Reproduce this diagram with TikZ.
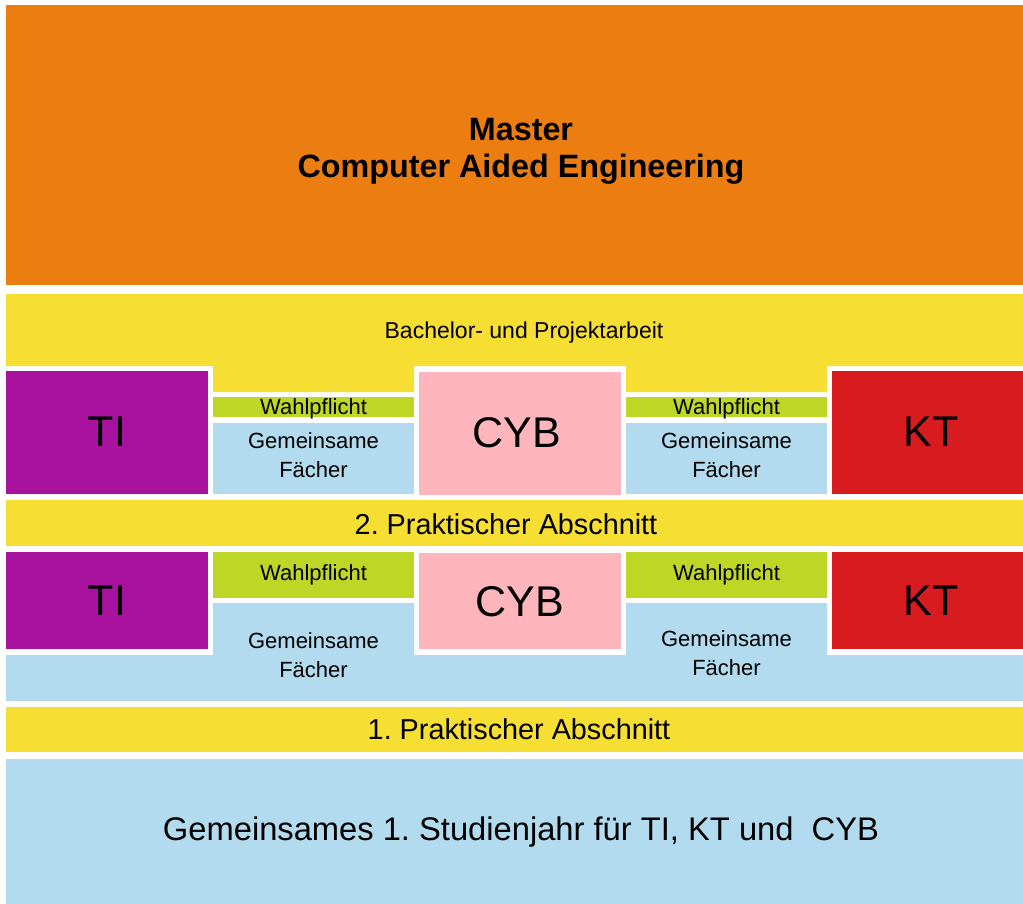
\documentclass[tikz,border=0pt]{standalone}
\usepackage{fontspec}
\setmainfont{Liberation Sans}
\usepackage{tikz}
\frenchspacing

\definecolor{masterorange}{RGB}{236,125,17}
\definecolor{praxisyellow}{RGB}{246,222,51}
\definecolor{tipurple}{RGB}{168,18,159}
\definecolor{cybpink}{RGB}{255,181,188}
\definecolor{ktred}{RGB}{215,27,30}
\definecolor{wahlgreen}{RGB}{190,215,38}
\definecolor{commonblue}{RGB}{179,219,239}

\begin{document}
\begin{tikzpicture}[x=1pt, y=-1pt,
  bigtext/.style={font=\fontsize{43}{50}\selectfont},
  midtext/.style={font=\fontsize{28.8}{34}\selectfont},
  smalltext/.style={font=\fontsize{22}{29}\selectfont, align=center, inner sep=0pt}]
  \useasboundingbox (0,0) rectangle (1023,904);

  % Master
  \fill[masterorange] (6,5) rectangle (1023,285);

  % Bachelor- und Projektarbeit
  \fill[praxisyellow] (6,294) -- (1023,294) -- (1023,366) -- (827,366) -- (827,392)
     -- (626,392) -- (626,366) -- (414,366) -- (414,392) -- (213,392) -- (213,366)
     -- (6,366) -- cycle;

  % upper row
  \fill[tipurple] (6,371) rectangle (208,494);
  \fill[cybpink] (419,372) rectangle (621,495);
  \fill[ktred] (832,371) rectangle (1023,494);
  \fill[wahlgreen] (213,397) rectangle (414,417);
  \fill[wahlgreen] (626,397) rectangle (827,417);
  \fill[commonblue] (213,423) rectangle (414,494);
  \fill[commonblue] (626,423) rectangle (827,494);

  % 2. Praktischer Abschnitt
  \fill[praxisyellow] (6,500) rectangle (1023,546);

  % lower row
  \fill[tipurple] (6,552) rectangle (208,649);
  \fill[cybpink] (419,553) rectangle (621,649);
  \fill[ktred] (832,552) rectangle (1023,649);
  \fill[wahlgreen] (213,552) rectangle (414,598);
  \fill[wahlgreen] (626,552) rectangle (827,598);
  \fill[commonblue] (6,655) -- (213,655) -- (213,603) -- (414,603) -- (414,655)
     -- (626,655) -- (626,603) -- (827,603) -- (827,655) -- (1023,655)
     -- (1023,701) -- (6,701) -- cycle;

  % 1. Praktischer Abschnitt
  \fill[praxisyellow] (6,707) rectangle (1023,752);

  % erstes Studienjahr
  \fill[commonblue] (6,759) rectangle (1023,904);

  % texts
  \node[align=center, font=\fontsize{32.3}{37}\selectfont\bfseries] (master) at (521,151)
     {Master\\Computer Aided Engineering};
  \node[smalltext, font=\fontsize{23}{29}\selectfont] (bachelor) at (524,333)
     {Bachelor- und Projektarbeit};

  \node[bigtext] (tiup) at (107,432) {TI};
  \node[bigtext] (cybup) at (517,433) {CYB};
  \node[bigtext] (ktup) at (931,432) {KT};
  \node[smalltext] (wahlupl) at (313.5,409) {Wahlpflicht};
  \node[smalltext] (wahlupr) at (726.5,409) {Wahlpflicht};
  \node[smalltext] (commonupl) at (313.5,455) {Gemeinsame\\Fächer};
  \node[smalltext] (commonupr) at (726.5,455) {Gemeinsame\\Fächer};

  \node[midtext] (praxiszwei) at (506,524) {2. Praktischer Abschnitt};

  \node[bigtext] (tilow) at (107,601) {TI};
  \node[bigtext] (cyblow) at (520,602) {CYB};
  \node[bigtext] (ktlow) at (931,601) {KT};
  \node[smalltext] (wahllowl) at (313.5,575) {Wahlpflicht};
  \node[smalltext] (wahllowr) at (726.5,575) {Wahlpflicht};
  \node[smalltext] (commonlowl) at (313.5,655) {Gemeinsame\\Fächer};
  \node[smalltext] (commonlowr) at (726.5,653) {Gemeinsame\\Fächer};

  \node[midtext] (praxiseins) at (519,729) {1. Praktischer Abschnitt};

  \node[font=\fontsize{32.7}{38}\selectfont] (erstesjahr) at (521,832)
     {Gemeinsames 1. Studienjahr für TI, KT und \ CYB};
\end{tikzpicture}
\end{document}
